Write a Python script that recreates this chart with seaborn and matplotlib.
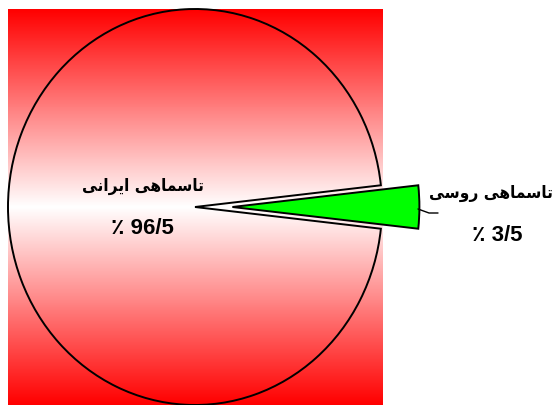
import numpy as np
import matplotlib
matplotlib.use("Agg")
import matplotlib.pyplot as plt
from matplotlib.colors import LinearSegmentedColormap
from matplotlib.lines import Line2D
import seaborn as sns

# data
species = ["تاسماهی ایرانی", "تاسماهی روسی"]
shares = [96.5, 3.5]
slice_colors = ["none", "#00ff00"]

# simple persian shaping (presentation forms), matplotlib has no bidi/shaping
FORMS = {
    "ا": ("\ufe8d", "\ufe8e", None, None),
    "ت": ("\ufe95", "\ufe96", "\ufe97", "\ufe98"),
    "س": ("\ufeb1", "\ufeb2", "\ufeb3", "\ufeb4"),
    "م": ("\ufee1", "\ufee2", "\ufee3", "\ufee4"),
    "ه": ("\ufee9", "\ufeea", "\ufeeb", "\ufeec"),
    "ی": ("\ufbfc", "\ufbfd", "\ufbfe", "\ufbff"),
    "ر": ("\ufead", "\ufeae", None, None),
    "ن": ("\ufee5", "\ufee6", "\ufee7", "\ufee8"),
    "و": ("\ufeed", "\ufeee", None, None),
}


def shape(text):
    out = []
    for i, ch in enumerate(text):
        if ch not in FORMS:
            out.append(ch)
            continue
        prev = text[i - 1] if i > 0 else " "
        nxt = text[i + 1] if i + 1 < len(text) else " "
        join_prev = prev in FORMS and FORMS[prev][2] is not None
        join_next = nxt in FORMS and FORMS[ch][2] is not None
        iso, fin, ini, med = FORMS[ch]
        if join_prev and join_next:
            out.append(med)
        elif join_prev:
            out.append(fin)
        elif join_next:
            out.append(ini)
        else:
            out.append(iso)
    return "".join(out)[::-1]


def pct_label(v):
    return "٪ " + "{:.1f}".format(v).replace(".", "/")


sns.set_style("white")
fig = plt.figure(figsize=(5.56, 4.06), dpi=100)
W, H = 556, 406
ax = fig.add_axes([8 / W, 0 / H, 374 / W, 396 / H])

# red - white - red vertical gradient behind the pie
cmap = LinearSegmentedColormap.from_list("rw", ["#ffffff", "#ff0000"])
grad = np.abs(np.linspace(-1, 1, 400))[:, None]
ax.imshow(grad, cmap=cmap, extent=(-1, 1, -1, 1), aspect="auto", zorder=0, vmin=0, vmax=1)

start = -shares[1] / 100 * 360 / 2
wedges, _ = ax.pie(shares[::-1], colors=slice_colors[::-1], explode=[0.2, 0],
                   startangle=start, counterclock=True, radius=1,
                   wedgeprops=dict(edgecolor="black", linewidth=1.4))
for w in wedges:
    w.set_clip_on(False)
    w.set_zorder(2)

ax.set_aspect("auto")
ax.set_xlim(-1, 1)
ax.set_ylim(-1, 1)
ax.axis("off")

fam = ["Liberation Sans", "DejaVu Sans"]
label_pos = [(143, 186), (491, 193)]
pct_pos = [(142, 229), (497, 236)]
for name, v, (lx, ly), (px, py) in zip(species, shares, label_pos, pct_pos):
    fig.text(lx / W, 1 - ly / H, shape(name), ha="center", va="center",
             fontsize=12.3, fontweight="bold", fontstretch="condensed",
             family=["DejaVu Sans"], color="black")
    fig.text(px / W, 1 - py / H, pct_label(v), ha="center", va="center",
             fontsize=16, fontweight="bold", family=fam, color="black")

# leader line for the small slice
fig.add_artist(Line2D(np.array([418, 429, 438]) / W, 1 - np.array([210, 214, 214]) / H,
                      color="black", linewidth=1))

plt.savefig("out.png", dpi=100)
